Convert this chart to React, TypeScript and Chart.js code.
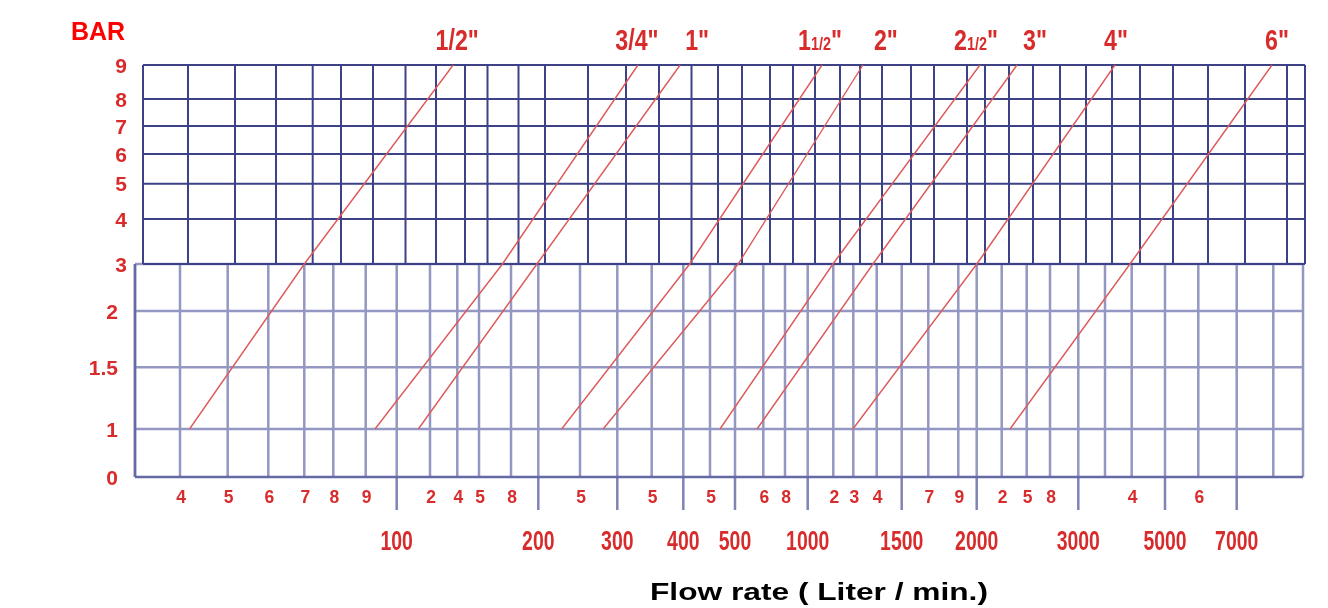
import React, { useEffect, useRef } from 'react';
import { Chart, LineController, LineElement, PointElement, LinearScale } from 'chart.js';

// pipe sizes and the flow (litre/min) each line reads at 1, 3 and 9 bar
const pipeSizes = ['1/2"', '3/4"', '1"', '1 1/2"', '2"', '2 1/2"', '3"', '4"', '6"'];
const flowAt1Bar = [42, 93, 113, 228, 281, 470, 578, 1298, 2300];
const flowAt3Bar = [70, 172, 199, 412, 511, 1197, 1384, 2001, 3968];
const flowAt9Bar = [137, 330, 395, 1112, 1341, 2026, 2384, 3687, 7965];

// pressure rules (bar)
const barTicks = [0, 1, 1.5, 2, 3, 4, 5, 6, 7, 8, 9];

// flow rules (litre/min), the digit printed under each, and the big numbers
const flowTicks = [
  30, 40, 50, 60, 70, 80, 90, 100, 120, 140, 150, 180, 200, 250, 300, 350, 400, 450, 500, 600,
  800, 1000, 1200, 1300, 1400, 1500, 1700, 1900, 2000, 2200, 2500, 2800, 3000, 3500, 4000, 5000,
  6000, 7000, 8000, 10000,
];
const flowDigits = [
  '', '4', '5', '6', '7', '8', '9', '', '2', '4', '5', '8', '', '5', '', '5', '', '5', '', '6',
  '8', '', '2', '3', '4', '', '7', '9', '', '2', '5', '8', '', '', '4', '', '6', '', '', '',
];
const majorFlows = [100, 200, 300, 400, 500, 1000, 1500, 2000, 3000, 5000, 7000];

// the printed axes are not uniform: where each rule sits along them
const lowerRuler = [
  0, 45, 92.7, 133.3, 169.3, 198.3, 230.7, 261.7, 295, 322.3, 344, 376, 403.3, 445, 482.3, 516.7,
  548.3, 575, 600, 628.3, 650, 672.7, 698.3, 718.3, 741.7, 766.7, 793.3, 823.3, 841.7, 866.7,
  891.7, 915, 943.3, 970, 996.7, 1030, 1063.3, 1101.7, 1138.3, 1168,
];
// the upper panel was printed a little to the right of the lower one
const upperRuler = [
  8, 53, 100, 141, 177.7, 206, 238, 270.5, 301, 330, 352.5, 383.5, 410, 453, 491, 524, 556.5, 583,
  607, 635, 658, 680, 705, 725, 747, 776, 799, 832, 850, 874, 898, 925, 951, 977, 1005, 1038, 1073,
  1110, 1152, 1170,
];
const barRuler = [0, 48, 109.7, 166, 213, 258, 293.3, 323, 351, 378, 412];

const rulers: Record<string, { values: number[]; marks: number[]; span: number }> = {
  x: { values: flowTicks, marks: lowerRuler, span: 1168 },
  xTop: { values: flowTicks, marks: upperRuler, span: 1168 },
  y: { values: barTicks, marks: barRuler, span: 412 },
};

// pipe labels sit a bit off the line ends
const labelNudge = [4, -1, 17, -2, 23, -4, 18, 1, 5];

const FONT = "'Liberation Sans', Arial, Helvetica, sans-serif";
const RED = '#d82c2c';

// linear scale that interpolates between printed rules
class RulerScale extends LinearScale {
  static id = 'ruler';

  determineDataLimits() {
    const { values } = rulers[this.id];
    this.min = values[0];
    this.max = values[values.length - 1];
  }

  buildTicks() {
    return rulers[this.id].values.map((value) => ({ value }));
  }

  getPixelForValue(value: number) {
    const { values, marks, span } = rulers[this.id];
    let i = 1;
    while (i < values.length - 1 && value > values[i]) i++;
    const t = (value - values[i - 1]) / (values[i] - values[i - 1]);
    const m = marks[i - 1] + t * (marks[i] - marks[i - 1]);
    return this.getPixelForDecimal(m / span);
  }

  getValueForPixel(pixel: number) {
    const { values, marks, span } = rulers[this.id];
    const m = this.getDecimalForPixel(pixel) * span;
    let i = 1;
    while (i < marks.length - 1 && m > marks[i]) i++;
    const t = (m - marks[i - 1]) / (marks[i] - marks[i - 1]);
    return values[i - 1] + t * (values[i] - values[i - 1]);
  }
}

Chart.register(LineController, LineElement, PointElement, LinearScale, RulerScale);

function stroke(ctx: CanvasRenderingContext2D, color: string, width: number, segs: number[][]) {
  ctx.save();
  ctx.strokeStyle = color;
  ctx.lineWidth = width;
  ctx.beginPath();
  segs.forEach(([x1, y1, x2, y2]) => {
    ctx.moveTo(x1, y1);
    ctx.lineTo(x2, y2);
  });
  ctx.stroke();
  ctx.restore();
}

// text centred vertically on cy, optionally squeezed horizontally
function drawText(
  ctx: CanvasRenderingContext2D, str: string, x: number, cy: number, size: number,
  color: string, stretch = 1, align: CanvasTextAlign = 'center', baseSize = size,
) {
  ctx.save();
  ctx.translate(x, cy + baseSize * 0.36);
  ctx.scale(stretch, 1);
  ctx.font = `bold ${size}px ${FONT}`;
  ctx.fillStyle = color;
  ctx.textAlign = align;
  ctx.textBaseline = 'alphabetic';
  ctx.fillText(str, 0, 0);
  ctx.restore();
}

function drawPipeLabel(ctx: CanvasRenderingContext2D, label: string, cx: number, cy: number) {
  const big = 29;
  const k = 0.8;
  const m = /^(\d) 1\/2"$/.exec(label);
  const parts: [string, number][] = m ? [[m[1], big], ['1/2', 18], ['"', big]] : [[label, big]];
  const widths = parts.map(([t, s]) => {
    ctx.font = `bold ${s}px ${FONT}`;
    return ctx.measureText(t).width * k;
  });
  let x = cx - widths.reduce((a, b) => a + b, 0) / 2;
  parts.forEach(([t, s], i) => {
    drawText(ctx, t, x, cy, s, RED, k, 'left', big);
    x += widths[i];
  });
}

const nomogram = {
  id: 'nomogram',
  beforeDatasetsDraw(chart: any) {
    const { ctx, scales } = chart;
    const px = (v: number) => scales.x.getPixelForValue(v);
    const pt = (v: number) => scales.xTop.getPixelForValue(v);
    const py = (v: number) => scales.y.getPixelForValue(v);
    const first = flowTicks[0];
    const last = flowTicks[flowTicks.length - 1];
    const y0 = py(0);
    const y3 = py(3);
    const y9 = py(9);

    // lower panel (0 - 3 bar)
    stroke(ctx, '#9497c2', 2.5, flowTicks.map((v) => [px(v), y3, px(v), y0]));
    stroke(ctx, '#9497c2', 2.5,
      barTicks.filter((b) => b > 0 && b <= 3).map((b) => [px(first), py(b), px(last), py(b)]));
    stroke(ctx, '#8083b4', 2.5, majorFlows.map((v) => [px(v), y0, px(v), y0 + 33]));
    stroke(ctx, '#666aa4', 2.5, [
      [px(first), y3, px(first), y0],
      [px(first), y0, px(last), y0],
    ]);

    // upper panel (3 - 9 bar)
    stroke(ctx, '#3d4286', 2, flowTicks.map((v) => [pt(v), y9, pt(v), y3]));
    stroke(ctx, '#3d4286', 2,
      barTicks.filter((b) => b >= 3).map((b) => [pt(first), py(b), pt(last), py(b)]));
  },
  afterDatasetsDraw(chart: any) {
    const { ctx, scales } = chart;
    const px = (v: number) => scales.x.getPixelForValue(v);
    const pt = (v: number) => scales.xTop.getPixelForValue(v);
    const py = (v: number) => scales.y.getPixelForValue(v);
    const first = flowTicks[0];
    const y0 = py(0);

    barTicks.forEach((b) => {
      const right = b >= 3 ? pt(first) - 16 : px(first) - 17;
      drawText(ctx, String(b), right, py(b), 21, RED, 1, 'right');
    });

    flowTicks.forEach((v, i) => {
      if (flowDigits[i]) drawText(ctx, flowDigits[i], px(v) + 1, y0 + 19, 19, RED, 0.92);
    });
    majorFlows.forEach((v) => drawText(ctx, String(v), px(v), y0 + 63, 27, RED, 0.72));

    pipeSizes.forEach((size, i) => {
      drawPipeLabel(ctx, size, px(flowAt9Bar[i]) + labelNudge[i], py(9) - 25);
    });
  },
};

export default function App() {
  const canvasRef = useRef<HTMLCanvasElement | null>(null);

  useEffect(() => {
    if (!canvasRef.current) return;
    const chart = new Chart(canvasRef.current, {
      type: 'line',
      data: {
        datasets: pipeSizes.map((size, i) => ({
          label: size,
          data: [
            { x: flowAt1Bar[i], y: 1 },
            { x: flowAt3Bar[i], y: 3 },
            { x: flowAt9Bar[i], y: 9 },
          ],
          borderColor: '#dc5a5a',
          borderWidth: 1.4,
          pointRadius: 0,
          tension: 0,
          xAxisID: 'x',
          yAxisID: 'y',
        })),
      },
      options: {
        animation: false,
        responsive: false,
        events: [],
        layout: { padding: { left: 135, right: 25, top: 65, bottom: 131 } },
        scales: {
          x: { type: 'ruler', display: false, ticks: { autoSkip: false } },
          xTop: { type: 'ruler', position: 'top', display: false, ticks: { autoSkip: false } },
          y: { type: 'ruler', display: false, ticks: { autoSkip: false } },
        },
      } as any,
      plugins: [nomogram],
    });
    return () => chart.destroy();
  }, []);

  return (
    <div
      style={{
        position: 'absolute', left: 0, top: 0, width: 1328, height: 608,
        background: '#ffffff', fontFamily: FONT, overflow: 'hidden',
      }}
    >
      <canvas ref={canvasRef} width={1328} height={608} style={{ position: 'absolute', left: 0, top: 0 }} />
      <div
        style={{
          position: 'absolute', left: 71, top: 19, color: '#ff0000', fontWeight: 'bold',
          fontSize: 25, lineHeight: '25px',
        }}
      >
        BAR
      </div>
      <div
        style={{
          position: 'absolute', left: 819, top: 592, color: '#000', fontWeight: 'bold',
          fontSize: 24, lineHeight: '24px', whiteSpace: 'nowrap',
          transform: 'translate(-50%, -50%) scaleX(1.32)',
        }}
      >
        Flow rate ( Liter / min.)
      </div>
    </div>
  );
}
